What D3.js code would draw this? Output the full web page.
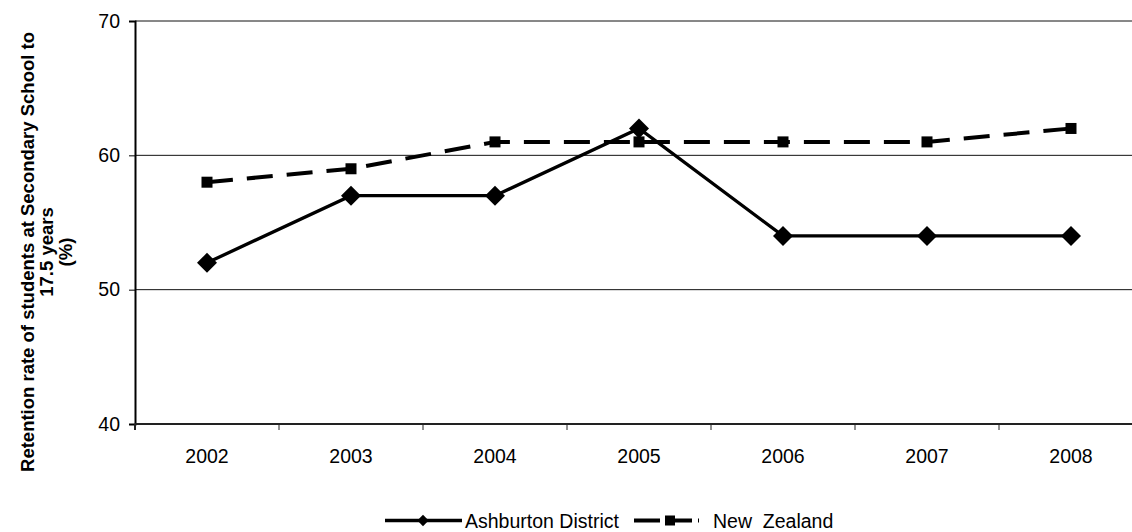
<!DOCTYPE html>
<html>
<head>
<meta charset="utf-8">
<script src="https://cdn.jsdelivr.net/npm/d3@7/dist/d3.min.js"></script>
<style>
  html, body { margin: 0; padding: 0; background: #fff; }
  svg { display: block; font-family: "Liberation Sans", Arial, sans-serif; }
</style>
</head>
<body>
<svg id="chart" width="1132" height="532"></svg>
<script>
// Retention rate of students at secondary school to 17.5 years (%)
const years = ["2002", "2003", "2004", "2005", "2006", "2007", "2008"];
const ashburton = [52, 57, 57, 62, 54, 54, 54];
const newZealand = [58, 59, 61, 61, 61, 61, 62];
const yTicks = [40, 50, 60, 70];
const seriesNames = ["Ashburton District", "New  Zealand"];
const titleLines = ["Retention rate of students at Secondary School to", "17.5 years", "(%)"];

const svg = d3.select("#chart");
const plot = { left: 135, band: 144, top: 21, bottom: 424 };
plot.right = plot.left + plot.band * years.length;

const x = d3.scaleBand().domain(years).range([plot.left, plot.right]).padding(0);
const y = d3.scaleLinear().domain([40, 70]).range([plot.bottom, plot.top]);
const cx = d => x(d) + x.bandwidth() / 2;
const FONT = 19.5;

// horizontal gridlines
svg.append("g").selectAll("line")
  .data(yTicks.filter(t => t > 40))
  .join("line")
  .attr("x1", plot.left).attr("x2", plot.right)
  .attr("y1", d => y(d)).attr("y2", d => y(d))
  .attr("stroke", "#111")
  .attr("stroke-width", 1);

// y axis
const yAxis = svg.append("g")
  .attr("transform", `translate(${plot.left},0)`)
  .call(d3.axisLeft(y).tickValues(yTicks).tickSize(6).tickPadding(9));
yAxis.select(".domain").attr("stroke", "#000").attr("stroke-width", 2);
yAxis.selectAll(".tick line").attr("stroke", "#000");
yAxis.selectAll("text").attr("font-size", FONT).attr("fill", "#000")
  .attr("font-family", "Liberation Sans, Arial, sans-serif");

// x axis: baseline plus ticks at category boundaries
svg.append("line")
  .attr("x1", plot.left).attr("x2", plot.right)
  .attr("y1", plot.bottom).attr("y2", plot.bottom)
  .attr("stroke", "#222").attr("stroke-width", 2);
svg.append("g").selectAll("line")
  .data(years)
  .join("line")
  .attr("x1", d => x(d)).attr("x2", d => x(d))
  .attr("y1", plot.bottom).attr("y2", plot.bottom + 6)
  .attr("stroke", "#222").attr("stroke-width", d => d === years[0] ? 2 : 1);
svg.append("g").selectAll("text")
  .data(years)
  .join("text")
  .attr("x", d => cx(d)).attr("y", 463)
  .attr("text-anchor", "middle")
  .attr("font-size", FONT)
  .text(d => d);

// y axis title
const title = svg.append("text")
  .attr("transform", "translate(0,252) rotate(-90)")
  .attr("text-anchor", "middle")
  .attr("font-size", 18.5)
  .attr("font-weight", "bold");
titleLines.forEach((t, i) => {
  title.append("tspan").attr("x", 0).attr("y", 34 + i * 19).text(t);
});

// series lines
const line = d3.line().x(d => cx(d.year)).y(d => y(d.v));
const nzData = years.map((yr, i) => ({ year: yr, v: newZealand[i] }));
const adData = years.map((yr, i) => ({ year: yr, v: ashburton[i] }));

svg.append("path").datum(nzData)
  .attr("d", line).attr("fill", "none")
  .attr("stroke", "#000").attr("stroke-width", 4)
  .attr("stroke-dasharray", "26 14");
svg.append("g").selectAll("rect")
  .data(nzData).join("rect")
  .attr("x", d => cx(d.year) - 5.5).attr("y", d => y(d.v) - 5.5)
  .attr("width", 11).attr("height", 11).attr("fill", "#000");

svg.append("path").datum(adData)
  .attr("d", line).attr("fill", "none")
  .attr("stroke", "#000").attr("stroke-width", 3.3);
const diamond = d3.symbol().type(d3.symbolSquare).size(200);
svg.append("g").selectAll("path")
  .data(adData).join("path")
  .attr("d", diamond)
  .attr("transform", d => `translate(${cx(d.year)},${y(d.v)}) rotate(45)`)
  .attr("fill", "#000");

// legend
const lg = svg.append("g").attr("transform", "translate(0,520.5)");
lg.append("line").attr("x1", 385).attr("x2", 462).attr("y1", 0).attr("y2", 0)
  .attr("stroke", "#000").attr("stroke-width", 3.3);
lg.append("path").attr("d", d3.symbol().type(d3.symbolSquare).size(64)())
  .attr("transform", "translate(423,0) rotate(45)").attr("fill", "#000");
lg.append("text").attr("x", 465).attr("y", 7).attr("font-size", FONT).text(seriesNames[0]);
lg.append("line").attr("x1", 634).attr("x2", 699).attr("y1", 0).attr("y2", 0)
  .attr("stroke", "#000").attr("stroke-width", 4).attr("stroke-dasharray", "26 6");
lg.append("rect").attr("x", 665).attr("y", -5).attr("width", 10).attr("height", 10).attr("fill", "#000");
lg.append("text").attr("x", 713).attr("y", 7).attr("font-size", FONT)
  .style("white-space", "pre").text(seriesNames[1]);
</script>
</body>
</html>
